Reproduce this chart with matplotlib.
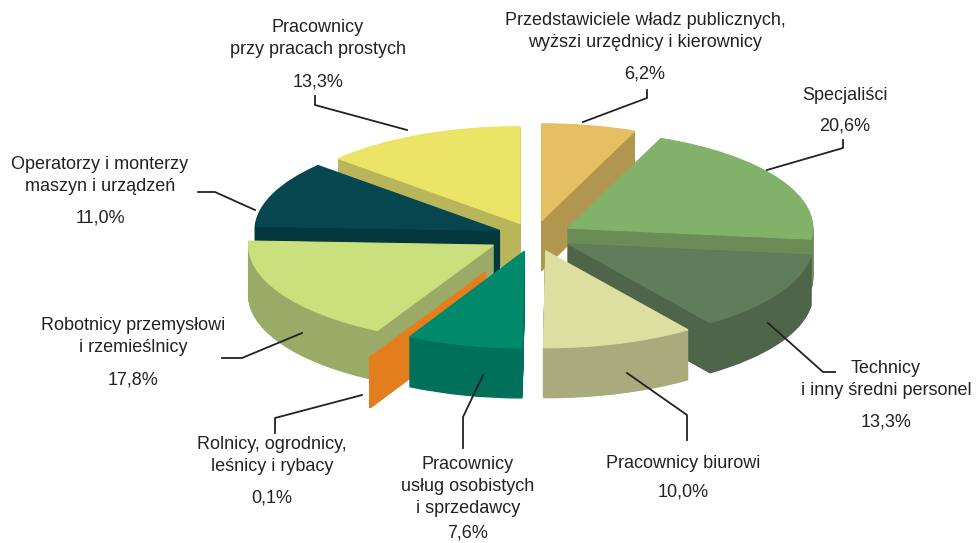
import matplotlib
matplotlib.use("Agg")
import matplotlib.pyplot as plt

# ---- data ----
labels = [
    "Przedstawiciele władz publicznych,\nwyższi urzędnicy i kierownicy",
    "Specjaliści",
    "Technicy\ni inny średni personel",
    "Pracownicy biurowi",
    "Pracownicy\nusług osobistych\ni sprzedawcy",
    "Rolnicy, ogrodnicy,\nleśnicy i rybacy",
    "Robotnicy przemysłowi\ni rzemieślnicy",
    "Operatorzy i monterzy\nmaszyn i urządzeń",
    "Pracownicy\nprzy pracach prostych",
]
values = [6.2, 20.6, 13.3, 10.0, 7.6, 0.1, 17.8, 11.0, 13.3]
pct_labels = ["6,2%", "20,6%", "13,3%", "10,0%", "7,6%", "0,1%", "17,8%", "11,0%", "13,3%"]

# ---- style ----
top_colors = ["#e6bf62", "#82b26a", "#5f7c5b", "#dcdfa0", "#00896b",
              "#e67e22", "#c9e07c", "#06464e", "#ebe466"]
side_colors = ["#b0964f", "#6a8c56", "#4e654a", "#a9ab7d", "#00705a",
               "#e47d1e", "#9aab67", "#03363d", "#b9b55a"]
explode = [0.16, 0.16, 0.16, 0.16, 0.16, 0.42, 0.19, 0.15, 0.14]

W, H = 977, 543
cx, cy, rx, ry = 534, 236, 245, 97
depth_px = 50

fig = plt.figure(figsize=(W / 100, H / 100), dpi=100)
ax = fig.add_axes([0, 0, 1, 1])

for k in range(depth_px, -1, -1):
    cols = top_colors if k == 0 else side_colors
    wedges, _ = ax.pie(values, startangle=90, counterclock=False, colors=cols,
                       explode=explode, center=(0, -k / ry), radius=1,
                       wedgeprops=dict(linewidth=0), normalize=True)
    # thin slices need an outline in their own colour to stay solid
    for w, c in zip(wedges, cols):
        w.set_edgecolor(c)
        w.set_linewidth(0.8)

ax.set_aspect("auto")
ax.set_xlim(-cx / rx, (W - cx) / rx)
ax.set_ylim((cy - H) / ry, cy / ry)
ax.axis("off")

font = dict(family=["Liberation Sans", "DejaVu Sans"], fontsize=13, color="#222222")


def P(x, y):
    return (x / W, 1 - y / H)


# label layout: (name center x, name top y, pct y, leader polyline in px)
layout = [
    (645, 12, 74, [(647, 90), (647, 98), (583, 122)]),
    (845, 87, 126, [(843, 140), (843, 148), (767, 170)]),
    (886, 360, 422, [(835, 372), (823, 372), (768, 323)]),
    (683, 455, 492, [(687, 440), (687, 415), (627, 373)]),
    (468, 456, 533, [(463, 448), (463, 417), (483, 375)]),
    (272, 436, 498, [(275, 433), (275, 418), (362, 395)]),
    (133, 317, 380, [(222, 358), (242, 358), (302, 333)]),
    (100, 156, 218, [(198, 192), (215, 192), (255, 210)]),
    (318, 19, 82, [(315, 96), (315, 105), (407, 130)]),
]

for lab, pct, (tx, ty, py, line) in zip(labels, pct_labels, layout):
    fig.text(*P(tx, ty), lab, ha="center", va="top", linespacing=1.4,
             transform=fig.transFigure, **font)
    fig.text(*P(tx, py), pct, ha="center", va="center",
             transform=fig.transFigure, **font)
    xs = [p[0] / W for p in line]
    ys = [1 - p[1] / H for p in line]
    fig.add_artist(plt.Line2D(xs, ys, color="#222222", lw=1.3,
                              transform=fig.transFigure))

fig.savefig("out.png", dpi=100)
